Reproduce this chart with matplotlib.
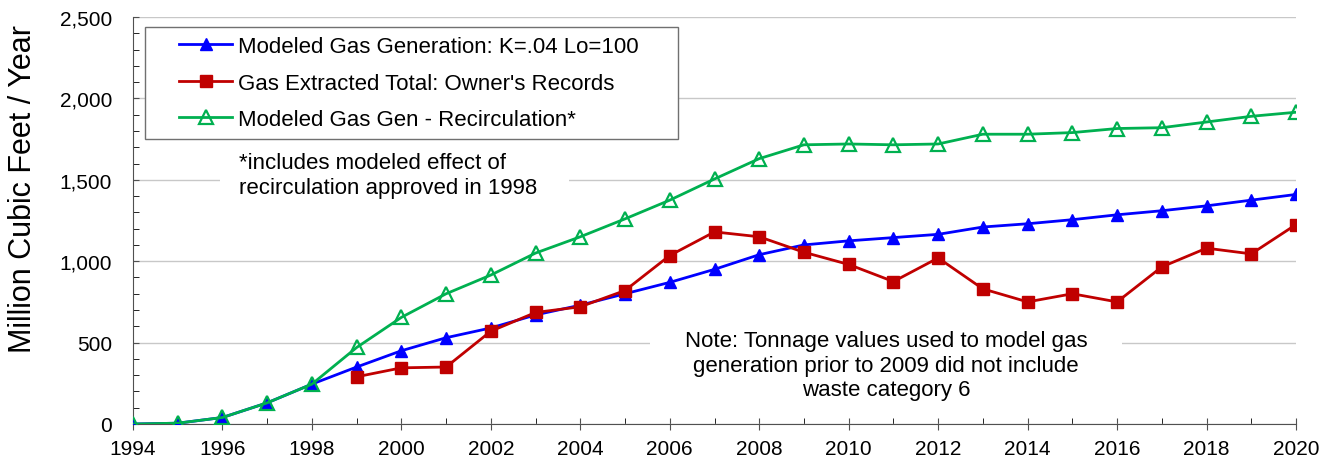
import numpy as np
import matplotlib
matplotlib.use("Agg")
import matplotlib.pyplot as plt
from matplotlib.patches import Rectangle
from matplotlib.ticker import MultipleLocator, FuncFormatter

plt.rcParams["font.family"] = ["Liberation Sans", "DejaVu Sans"]

# ── data ──────────────────────────────────────────────────────
years = list(range(1994, 2021))
modeled_gen = [0, 5, 40, 130, 245, 350, 450, 530, 590, 670, 730, 800, 870, 950,
               1040, 1100, 1125, 1145, 1165, 1210, 1230, 1255, 1285, 1310, 1340, 1375, 1410]
recirc_gen = [0, 5, 40, 130, 245, 470, 655, 800, 915, 1050, 1150, 1260, 1375, 1505,
              1630, 1715, 1720, 1715, 1720, 1780, 1780, 1790, 1815, 1820, 1855, 1890, 1915]
extract_years = list(range(1999, 2021))
extracted = [290, 345, 350, 570, 685, 720, 820, 1035, 1180, 1150, 1055, 980, 875,
             1020, 830, 750, 800, 750, 965, 1080, 1045, 1225]

labels = ["Modeled Gas Generation: K=.04 Lo=100",
          "Gas Extracted Total: Owner's Records",
          "Modeled Gas Gen - Recirculation*"]
note_recirc = "*includes modeled effect of\nrecirculation approved in 1998"
note_tonnage = ("Note: Tonnage values used to model gas\n"
                "generation prior to 2009 did not include\nwaste category 6")

W, H = 1322, 464
fig = plt.figure(figsize=(W / 100, H / 100), dpi=100)
ax = fig.add_axes([133 / W, 1 - 425 / H, 1163 / W, 407 / H])

l1, = ax.plot(years, modeled_gen, color="#0000FF", lw=2, marker="^", ms=8,
              zorder=3, label=labels[0])
l2, = ax.plot(extract_years, extracted, color="#C00000", lw=2, marker="s", ms=9,
              zorder=3, label=labels[1])
l3, = ax.plot(years, recirc_gen, color="#00B050", lw=2, marker="^", ms=10,
              mfc="none", mew=1.6, zorder=4, label=labels[2])

ax.set_xlim(1994, 2020)
ax.set_ylim(0, 2500)
ax.xaxis.set_major_locator(MultipleLocator(2))
ax.xaxis.set_minor_locator(MultipleLocator(1))
ax.yaxis.set_major_locator(MultipleLocator(500))
ax.yaxis.set_minor_locator(MultipleLocator(100))
ax.yaxis.set_major_formatter(FuncFormatter(lambda v, p: f"{int(v):,}"))
ax.tick_params(labelsize=15, color="#505050")
ax.tick_params(axis="x", which="major", direction="inout", length=9, pad=6)
ax.tick_params(axis="x", which="minor", direction="in", length=4)
ax.tick_params(axis="y", which="both", direction="in", length=4, pad=15)

ax.grid(axis="y", which="major", color="#C8C8C8", lw=1)
ax.set_axisbelow(True)
for s in ["top", "right"]:
    ax.spines[s].set_visible(False)
for s in ["left", "bottom"]:
    ax.spines[s].set_color("#505050")

ax.set_ylabel("Million Cubic Feet / Year", fontsize=22)
ax.yaxis.set_label_coords(-0.082, 0.58)

# legend: own frame so the inner padding can match
ax.add_patch(Rectangle((145 / W, 1 - 140 / H), 533 / W, 112 / H,
                       transform=fig.transFigure, facecolor="white",
                       edgecolor="#707070", lw=1, zorder=4.5))
leg = ax.legend(handles=[l1, l2, l3], loc="upper left",
                bbox_to_anchor=(179 / W, 1 - 37 / H), bbox_transform=fig.transFigure,
                fontsize=16, frameon=False, borderpad=0, borderaxespad=0,
                handlelength=2.4, labelspacing=0.7, handletextpad=0.25)
leg.set_zorder(5)

# white patches that break the gridlines behind the notes
ax.add_patch(Rectangle((1995.95, 1390), 7.8, 300, facecolor="white", edgecolor="none", zorder=1))
ax.add_patch(Rectangle((2005.55, 90), 10.55, 520, facecolor="white", edgecolor="none", zorder=1))
ax.text(1996.37, 1530, note_recirc, fontsize=16, ha="left", va="center",
        linespacing=1.25, zorder=2)
ax.text(2010.83, 362, note_tonnage, fontsize=16, ha="center", va="center",
        linespacing=1.2, zorder=2)

fig.savefig("out.png", dpi=100)
